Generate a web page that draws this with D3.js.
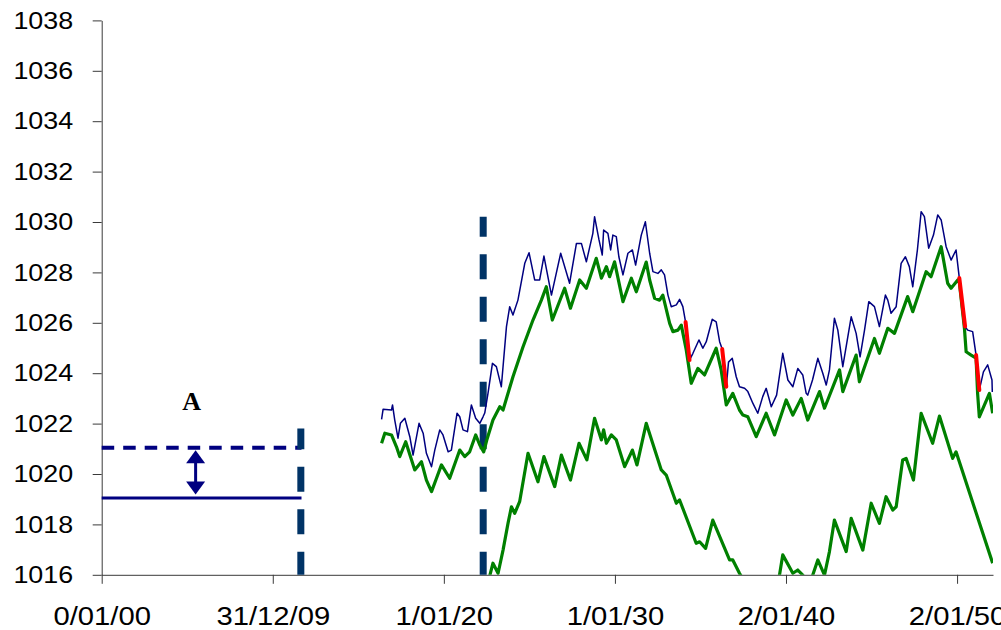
<!DOCTYPE html>
<html>
<head>
<meta charset="utf-8">
<script src="https://cdn.jsdelivr.net/npm/d3@7/dist/d3.min.js"></script>
<style>
  body { margin: 0; background: #fff; }
  svg { display: block; }
</style>
</head>
<body>
<div id="chart"></div>
<script>
// axis ticks
const yTicks = [1016, 1018, 1020, 1022, 1024, 1026, 1028, 1030, 1032, 1034, 1036, 1038];
const xTickYears = [0, 10, 20, 30, 40, 50];
const xTickLabels = ['0/01/00', '31/12/09', '1/01/20', '1/01/30', '2/01/40', '2/01/50'];

// series: [years since 1900, value]
const blueSeries = [
  [16.36,1022.17],[16.45,1022.57],[16.94,1022.54],[17.00,1022.74],[17.13,1022.14],[17.32,1021.42],
  [17.46,1022.01],[17.72,1022.21],[18.01,1021.48],[18.20,1020.75],[18.55,1022.01],[18.79,1021.62],
  [18.98,1020.82],[19.28,1020.29],[19.47,1020.95],[19.76,1021.75],[19.95,1021.55],[20.25,1020.88],
  [20.44,1020.95],[20.77,1022.41],[20.93,1022.27],[21.12,1021.75],[21.38,1021.68],[21.61,1022.74],
  [21.86,1022.21],[22.10,1022.01],[22.29,1022.27],[22.39,1022.42],[22.58,1023.20],[22.84,1024.39],
  [23.07,1024.26],[23.36,1023.46],[23.66,1025.85],[23.85,1026.64],[24.04,1026.31],[24.33,1026.90],
  [24.73,1028.36],[24.98,1028.78],[25.31,1027.70],[25.60,1027.70],[25.85,1028.65],[26.29,1027.10],
  [26.83,1028.76],[27.35,1027.57],[27.75,1029.15],[28.04,1029.15],[28.33,1028.42],[28.71,1029.55],
  [28.81,1030.21],[29.07,1029.29],[29.26,1028.69],[29.34,1029.68],[29.59,1029.55],[29.75,1028.89],
  [29.88,1029.48],[30.08,1029.42],[30.23,1028.62],[30.47,1027.90],[30.76,1028.76],[31.02,1028.89],
  [31.21,1028.29],[31.54,1029.48],[31.78,1030.01],[32.03,1028.76],[32.22,1028.03],[32.51,1027.96],
  [32.71,1028.10],[32.90,1027.90],[33.10,1027.10],[33.29,1026.64],[33.59,1026.71],[33.78,1026.93],
  [33.97,1026.64],[34.13,1026.03],[34.36,1024.52],[34.56,1024.79],[34.91,1025.32],[35.14,1024.99],
  [35.34,1025.25],[35.69,1026.14],[35.92,1026.04],[36.12,1025.25],[36.27,1024.96],[36.51,1023.46],
  [36.64,1024.44],[36.86,1024.59],[37.09,1023.86],[37.28,1023.46],[37.58,1023.40],[37.77,1023.27],
  [38.06,1022.81],[38.35,1022.41],[38.64,1023.07],[38.84,1023.40],[39.14,1022.67],[39.45,1023.13],
  [39.81,1024.79],[40.11,1023.73],[40.40,1023.46],[40.69,1024.19],[40.98,1023.93],[41.18,1023.20],
  [41.27,1023.13],[41.55,1023.73],[41.86,1024.59],[42.15,1024.00],[42.35,1023.53],[42.54,1024.13],
  [42.83,1026.18],[43.03,1025.71],[43.32,1024.26],[43.81,1026.24],[44.10,1025.58],[44.33,1024.65],
  [44.59,1025.71],[44.84,1026.84],[45.17,1026.64],[45.46,1025.85],[45.81,1027.10],[45.95,1026.90],
  [46.14,1026.38],[46.44,1026.64],[46.73,1028.36],[46.98,1028.62],[47.21,1028.23],[47.41,1027.43],
  [47.68,1028.89],[47.90,1030.41],[48.09,1030.21],[48.34,1028.96],[48.62,1029.48],[48.87,1030.28],
  [49.07,1030.08],[49.36,1029.02],[49.65,1028.49],[49.94,1028.89],[50.13,1027.78],[50.47,1025.85],
  [50.62,1025.71],[50.91,1025.65],[51.11,1024.72],[51.30,1023.33],[51.54,1024.05],[51.79,1024.33],
  [52.04,1023.73],[52.06,1023.25]
];

const greenUpper = [
  [16.36,1021.22],[16.55,1021.62],[16.94,1021.55],[17.23,1021.08],[17.42,1020.69],[17.77,1021.28],
  [18.30,1020.16],[18.69,1020.49],[18.98,1019.76],[19.28,1019.30],[19.57,1019.83],[19.86,1020.36],
  [20.34,1019.83],[20.93,1020.95],[21.22,1020.69],[21.51,1020.88],[21.86,1021.55],[22.10,1021.15],
  [22.33,1020.88],[22.51,1021.35],[22.87,1022.14],[23.27,1022.67],[23.46,1022.54],[24.04,1023.86],
  [24.63,1025.05],[25.21,1026.11],[25.70,1026.90],[25.99,1027.43],[26.34,1026.11],[27.06,1027.37],
  [27.40,1026.58],[27.94,1027.70],[28.33,1027.37],[28.91,1028.56],[29.21,1027.77],[29.50,1028.23],
  [29.69,1027.83],[29.98,1028.42],[30.47,1026.84],[30.96,1027.77],[31.25,1027.23],[31.83,1028.41],
  [32.03,1027.70],[32.32,1026.97],[32.61,1026.90],[32.80,1027.10],[33.20,1025.98],[33.39,1025.65],
  [33.68,1025.71],[33.88,1025.91],[34.17,1024.92],[34.46,1023.60],[34.85,1024.19],[35.24,1023.93],
  [35.92,1024.99],[36.21,1024.13],[36.51,1022.74],[36.89,1023.20],[37.28,1022.54],[37.48,1022.34],
  [37.77,1022.27],[38.26,1021.48],[38.84,1022.41],[39.33,1021.55],[40.01,1022.94],[40.40,1022.34],
  [40.89,1023.00],[41.27,1022.14],[41.96,1023.27],[42.25,1022.61],[43.13,1024.13],[43.32,1023.27],
  [44.10,1024.72],[44.29,1023.66],[45.17,1025.38],[45.46,1024.79],[45.95,1025.78],[46.34,1025.58],
  [47.11,1027.04],[47.41,1026.44],[48.19,1028.03],[48.48,1027.83],[49.07,1029.02],[49.45,1027.57],
  [49.65,1027.37],[50.04,1027.70],[50.13,1027.62],[50.43,1025.78],[50.53,1024.85],[50.82,1024.72],
  [51.11,1024.60],[51.20,1023.20],[51.30,1022.27],[51.89,1023.20],[52.08,1022.41]
];

const greenLower = [
  [22.62,1015.79],[22.87,1016.46],[23.17,1016.06],[23.46,1016.98],[23.75,1018.04],[23.95,1018.70],
  [24.14,1018.44],[24.43,1018.90],[24.92,1020.82],[25.50,1019.69],[25.85,1020.69],[26.48,1019.50],
  [26.87,1020.75],[27.40,1019.76],[27.90,1021.22],[28.36,1020.56],[28.81,1022.21],[29.21,1021.35],
  [29.34,1021.75],[29.50,1021.22],[29.79,1021.55],[30.08,1021.35],[30.57,1020.29],[31.02,1020.95],
  [31.29,1020.36],[31.83,1022.01],[32.71,1020.16],[33.00,1019.96],[33.59,1018.84],[33.78,1018.97],
  [34.75,1017.25],[34.95,1017.31],[35.30,1017.05],[35.72,1018.17],[36.70,1016.59],[36.89,1016.59],
  [37.28,1016.06],[37.87,1015.40],[39.04,1015.20],[39.62,1015.99],[39.81,1016.79],[40.40,1016.06],
  [40.69,1016.19],[40.98,1015.99],[41.37,1015.60],[41.86,1016.59],[42.25,1015.99],[42.54,1016.92],
  [42.83,1018.17],[43.52,1016.92],[43.81,1018.24],[44.49,1016.98],[44.98,1018.84],[45.46,1018.04],
  [45.85,1019.10],[46.24,1018.57],[46.44,1018.70],[46.82,1020.56],[47.02,1020.62],[47.45,1019.76],
  [47.90,1022.41],[48.57,1021.22],[48.97,1022.30],[49.74,1020.62],[49.94,1020.88],[52.08,1016.46]
];

// red drop segments
const redDrops = [
  [[34.13,1026.03],[34.36,1024.52]],
  [[36.27,1024.96],[36.51,1023.46]],
  [[50.13,1027.78],[50.47,1025.85]],
  [[51.11,1024.72],[51.30,1023.33]]
];

// annotation lines
const vMarkers = [[11.64, 1021.81], [22.30, 1030.21]];
const levelDashed = 1021.04;
const levelSolid = 1019.05;
const levelSpan = [0, 11.68];
const arrowYear = 5.49;
const labelA = { year: 5.26, value: 1022.54, text: 'A' };

const W = 1001, H = 630;
const margin = { top: 20.4, right: 8, bottom: 55.2, left: 101.7 };
const width = W - margin.left - margin.right;
const height = H - margin.top - margin.bottom;

const svg = d3.select('#chart').append('svg')
  .attr('width', W)
  .attr('height', H);

const g = svg.append('g')
  .attr('transform', `translate(${margin.left},${margin.top})`);

const x = d3.scaleLinear().domain([0, 52.1]).range([0, width]);
const y = d3.scaleLinear().domain([1016, 1038]).range([height, 0]);

svg.append('defs').append('clipPath')
  .attr('id', 'plot-clip')
  .append('rect')
  .attr('width', width)
  .attr('height', height);

const axisColor = '#3a3a3a';

// y axis
const yStretch = 1.12;
const yAxis = g.append('g')
  .call(d3.axisLeft(y).tickValues(yTicks).tickSize(9).tickSizeOuter(0).tickFormat(d3.format('d')));
yAxis.select('.domain').attr('stroke', axisColor);
yAxis.selectAll('.tick line').attr('stroke', axisColor);
yAxis.selectAll('.tick text')
  .attr('font-family', 'Liberation Sans, Arial, sans-serif')
  .attr('font-size', 24)
  .attr('fill', '#000')
  .attr('x', -28.5 / yStretch)
  .attr('transform', `scale(${yStretch},1)`);

// x axis
const xStretch = 1.17;
const xAxis = g.append('g')
  .attr('transform', `translate(0,${height})`)
  .call(d3.axisBottom(x).tickValues(xTickYears).tickSize(9).tickSizeOuter(0)
    .tickFormat((d, i) => xTickLabels[i]));
xAxis.select('.domain').attr('stroke', axisColor);
xAxis.selectAll('.tick line').attr('stroke', axisColor);
xAxis.selectAll('.tick text')
  .attr('font-family', 'Liberation Sans, Arial, sans-serif')
  .attr('font-size', 25)
  .attr('fill', '#000')
  .attr('y', 32)
  .attr('transform', `scale(${xStretch},1)`);

// reference lines on the left
g.append('line')
  .attr('x1', x(levelSpan[0])).attr('x2', x(levelSpan[1]))
  .attr('y1', y(levelDashed)).attr('y2', y(levelDashed))
  .attr('stroke', '#000080')
  .attr('stroke-width', 4)
  .attr('stroke-dasharray', '12.5,9');

g.append('line')
  .attr('x1', x(levelSpan[0])).attr('x2', x(levelSpan[1]))
  .attr('y1', y(levelSolid)).attr('y2', y(levelSolid))
  .attr('stroke', '#000080')
  .attr('stroke-width', 3);

// double arrow
const ax = x(arrowYear);
const yTop = y(levelDashed) + 2.5;
const yBot = y(levelSolid) - 3.5;
const headLen = 13, headHalf = 9.5;
g.append('line')
  .attr('x1', ax).attr('x2', ax)
  .attr('y1', yTop + headLen - 1).attr('y2', yBot - headLen + 1)
  .attr('stroke', '#000080')
  .attr('stroke-width', 3);
g.append('path')
  .attr('d', `M${ax},${yTop} L${ax - headHalf},${yTop + headLen} L${ax + headHalf},${yTop + headLen} Z`)
  .attr('fill', '#000080');
g.append('path')
  .attr('d', `M${ax},${yBot} L${ax - headHalf},${yBot - headLen} L${ax + headHalf},${yBot - headLen} Z`)
  .attr('fill', '#000080');

g.append('text')
  .attr('x', x(labelA.year))
  .attr('y', y(labelA.value))
  .attr('text-anchor', 'middle')
  .attr('font-family', 'Liberation Serif, Times New Roman, serif')
  .attr('font-weight', 'bold')
  .attr('font-size', 26)
  .text(labelA.text);

// vertical dashed markers
g.selectAll('line.vmark')
  .data(vMarkers)
  .enter()
  .append('line')
  .attr('class', 'vmark')
  .attr('x1', d => x(d[0])).attr('x2', d => x(d[0]))
  .attr('y1', y(1016)).attr('y2', d => y(d[1]))
  .attr('stroke', '#003366')
  .attr('stroke-width', 7)
  .attr('stroke-dasharray', '25,17.5')
  .attr('stroke-dashoffset', 2);

// series
const line = d3.line()
  .x(d => x(d[0]))
  .y(d => y(d[1]));

const plot = g.append('g').attr('clip-path', 'url(#plot-clip)');

plot.append('path')
  .datum(greenLower)
  .attr('d', line)
  .attr('fill', 'none')
  .attr('stroke', '#008000')
  .attr('stroke-width', 3.2)
  .attr('stroke-linejoin', 'round');

plot.append('path')
  .datum(greenUpper)
  .attr('d', line)
  .attr('fill', 'none')
  .attr('stroke', '#008000')
  .attr('stroke-width', 3.2)
  .attr('stroke-linejoin', 'round');

plot.append('path')
  .datum(blueSeries)
  .attr('d', line)
  .attr('fill', 'none')
  .attr('stroke', '#000080')
  .attr('stroke-width', 1.5)
  .attr('stroke-linejoin', 'round');

plot.selectAll('line.drop')
  .data(redDrops)
  .enter()
  .append('line')
  .attr('class', 'drop')
  .attr('x1', d => x(d[0][0])).attr('y1', d => y(d[0][1]))
  .attr('x2', d => x(d[1][0])).attr('y2', d => y(d[1][1]))
  .attr('stroke', '#ff0000')
  .attr('stroke-width', 4)
  .attr('stroke-linecap', 'round');
</script>
</body>
</html>
